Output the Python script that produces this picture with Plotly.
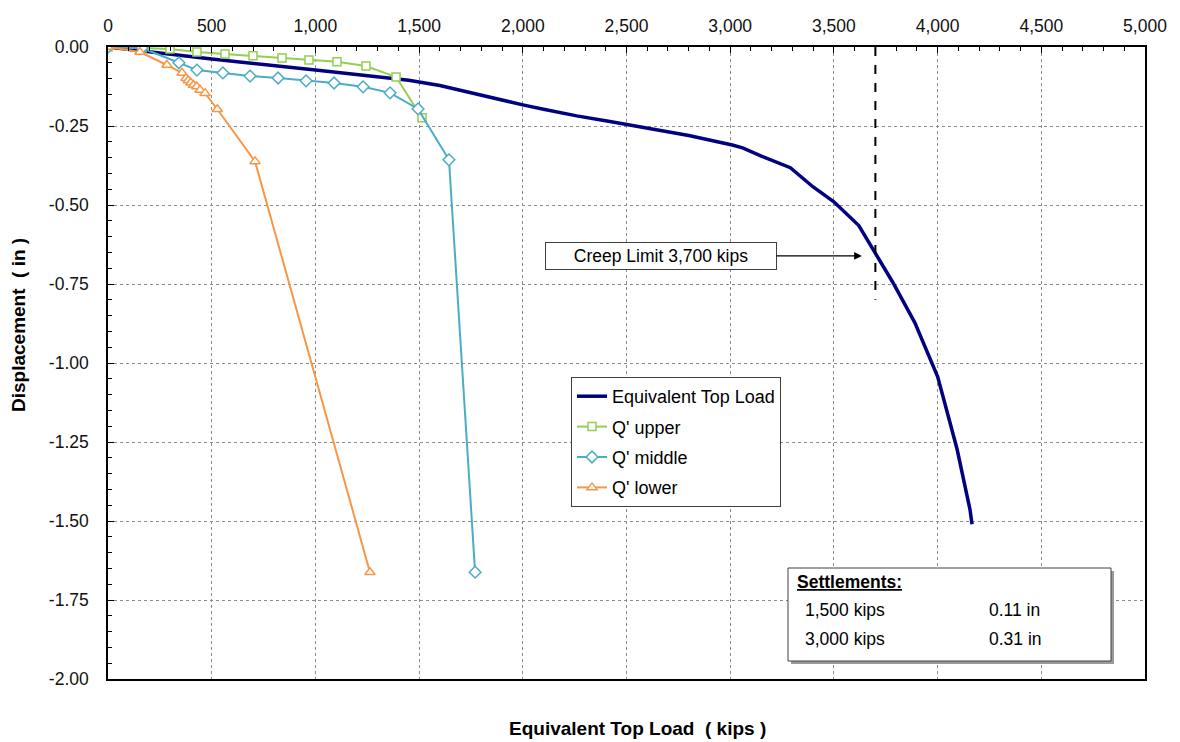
import plotly.graph_objects as go

# ---------------- data ----------------
eq_load = [0, 500, 1000, 1450, 1600, 1780, 1890, 2000, 2100, 2260, 2420, 2610, 2800,
           3010, 3060, 3150, 3290, 3400, 3500, 3620, 3690, 3785, 3890, 4000, 4026,
           4094, 4156, 4166]
eq_disp = [0, -0.038, -0.073, -0.105, -0.122, -0.150, -0.168, -0.183, -0.197, -0.218,
           -0.236, -0.257, -0.280, -0.310, -0.319, -0.345, -0.382, -0.443, -0.490,
           -0.565, -0.640, -0.746, -0.872, -1.043, -1.106, -1.273, -1.463, -1.510]

upper_load = [0, 164, 299, 429, 564, 699, 839, 969, 1104, 1244, 1389, 1514]
upper_disp = [0, -0.003, -0.006, -0.016, -0.022, -0.028, -0.035, -0.041, -0.047, -0.060,
              -0.095, -0.224]

middle_load = [0, 164, 342, 429, 554, 685, 820, 955, 1090, 1230, 1360, 1495, 1644, 1770]
middle_disp = [0, -0.003, -0.050, -0.073, -0.082, -0.092, -0.098, -0.107, -0.114, -0.126,
               -0.145, -0.196, -0.357, -1.662]

lower_load = [0, 154, 284, 357, 376, 387, 399, 412, 428, 444, 468, 527, 709, 1263]
lower_disp = [0, -0.016, -0.057, -0.082, -0.099, -0.106, -0.113, -0.120, -0.125, -0.136,
              -0.146, -0.197, -0.362, -1.662]

x_tickvals = [0, 500, 1000, 1500, 2000, 2500, 3000, 3500, 4000, 4500, 5000]
x_ticktext = ["0", "500", "1,000", "1,500", "2,000", "2,500", "3,000", "3,500",
              "4,000", "4,500", "5,000"]
y_tickvals = [0, -0.25, -0.5, -0.75, -1.0, -1.25, -1.5, -1.75, -2.0]
y_ticktext = ["0.00", "-0.25", "-0.50", "-0.75", "-1.00", "-1.25", "-1.50", "-1.75", "-2.00"]

creep_limit = 3700
creep_text = "Creep Limit 3,700 kips"
settle_rows = [("1,500 kips", "0.11 in"), ("3,000 kips", "0.31 in")]

# ---------------- layout constants ----------------
W, H = 1180, 742
L, R, T, B = 108, 35, 47, 63
PW, PH = W - L - R, H - T - B
FONT = "Liberation Sans, Arial, sans-serif"
FS = 17.5


def px(xp):
    return (xp - L) / PW


def py(yp):
    return (H - B - yp) / PH


fig = go.Figure()
fig.add_trace(go.Scatter(x=eq_load, y=eq_disp, mode="lines", name="Equivalent Top Load",
                         legendgroup="a",
                         line=dict(color="#000080", width=3.5)))
fig.add_trace(go.Scatter(x=upper_load, y=upper_disp, mode="lines+markers", name="Q' upper",
                         legendgroup="b",
                         line=dict(color="#92D050", width=2),
                         marker=dict(symbol="square", size=8, color="white",
                                     line=dict(color="#92D050", width=1.5))))
fig.add_trace(go.Scatter(x=middle_load, y=middle_disp, mode="lines+markers", name="Q' middle",
                         legendgroup="c",
                         line=dict(color="#4BACC6", width=2),
                         marker=dict(symbol="diamond", size=9, color="white",
                                     line=dict(color="#4BACC6", width=1.5))))
fig.add_trace(go.Scatter(x=lower_load, y=lower_disp, mode="lines+markers", name="Q' lower",
                         legendgroup="d",
                         line=dict(color="#F79646", width=2),
                         marker=dict(symbol="triangle-up", size=9, color="white",
                                     line=dict(color="#F79646", width=1.5))))

shapes = [
    dict(type="line", xref="x", yref="y", x0=creep_limit, x1=creep_limit, y0=0, y1=-0.8,
         line=dict(color="black", width=2, dash="dash")),
    dict(type="rect", xref="paper", yref="paper", x0=px(791), x1=px(1114), y0=py(571),
         y1=py(664), line=dict(width=0), fillcolor="#9a9a9a", layer="above"),
    dict(type="rect", xref="paper", yref="paper", x0=px(788), x1=px(1111), y0=py(568),
         y1=py(661), line=dict(color="#404040", width=1), fillcolor="white", layer="above"),
]

annotations = [
    dict(xref="paper", yref="paper", x=px(637), y=py(728), text="<b>Equivalent Top Load  ( kips )</b>",
         showarrow=False, font=dict(size=19, color="black", family=FONT), xanchor="center",
         yanchor="middle"),
    dict(xref="paper", yref="paper", x=px(18), y=py(325), text="<b>Displacement  ( in )</b>",
         showarrow=False, textangle=-90, font=dict(size=19, color="black", family=FONT),
         xanchor="center", yanchor="middle"),
    dict(xref="x", yref="y", x=3635, y=-0.661, axref="x", ayref="y", ax=2666, ay=-0.661,
         text=creep_text, showarrow=True, arrowhead=2, arrowsize=1.3, arrowwidth=1.2,
         arrowcolor="black", bordercolor="#404040", borderwidth=1, bgcolor="white",
         width=228, height=24, font=dict(size=FS, color="black", family=FONT)),
    dict(xref="paper", yref="paper", x=px(795), y=py(582), text="<b><u>Settlements:</u></b>",
         showarrow=False, xanchor="left", yanchor="middle",
         font=dict(size=FS, color="black", family=FONT)),
]
row_y = [610, 639]
for (a, b), yy in zip(settle_rows, row_y):
    annotations.append(dict(xref="paper", yref="paper", x=px(803), y=py(yy), text=a,
                            showarrow=False, xanchor="left", yanchor="middle",
                            font=dict(size=FS, color="black", family=FONT)))
    annotations.append(dict(xref="paper", yref="paper", x=px(987), y=py(yy), text=b,
                            showarrow=False, xanchor="left", yanchor="middle",
                            font=dict(size=FS, color="black", family=FONT)))

fig.update_layout(
    width=W, height=H,
    margin=dict(l=L, r=R, t=T, b=B),
    paper_bgcolor="white", plot_bgcolor="white",
    font=dict(family=FONT, size=FS, color="#111111"),
    shapes=shapes, annotations=annotations,
    legend=dict(x=px(571), y=py(377), xanchor="left", yanchor="top", bgcolor="white",
                bordercolor="#404040", borderwidth=1, font=dict(size=18, color="black"),
                itemwidth=30, tracegroupgap=4),
    xaxis=dict(side="top", range=[0, 5000], tickvals=x_tickvals, ticktext=x_ticktext,
               showline=True, linecolor="black", linewidth=1.5, mirror=True,
               ticks="inside", ticklen=6, tickcolor="black",
               showgrid=True, gridcolor="#8c8c8c", griddash="dot", gridwidth=1,
               zeroline=False, ticklabelstandoff=6,
               minor=dict(dtick=100, ticks="inside", ticklen=4, tickcolor="black", showgrid=False)),
    yaxis=dict(range=[-2.0, 0], tickvals=y_tickvals, ticktext=y_ticktext,
               showline=True, linecolor="black", linewidth=1.5, mirror=True,
               ticks="inside", ticklen=6, tickcolor="black",
               showgrid=True, gridcolor="#8c8c8c", griddash="dot", gridwidth=1,
               zeroline=False, ticklabelstandoff=14,
               minor=dict(dtick=0.05, ticks="inside", ticklen=4, tickcolor="black", showgrid=False)),
)

fig.write_html("out.html")
